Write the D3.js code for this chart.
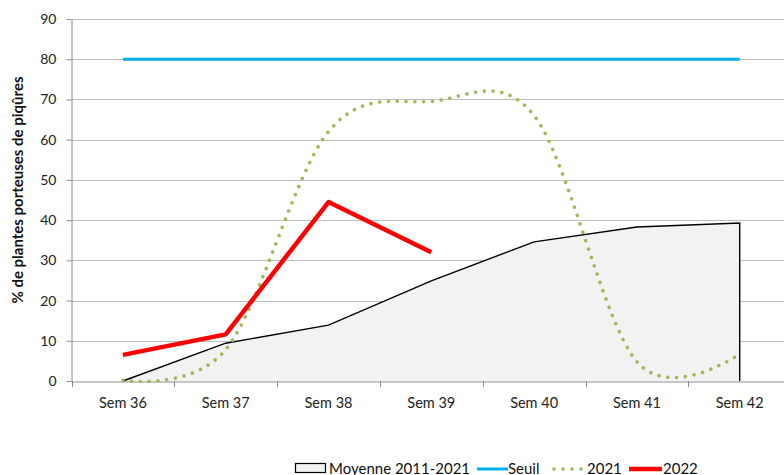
<!DOCTYPE html>
<html><head><meta charset="utf-8">
<script src="https://cdn.jsdelivr.net/npm/d3@7"></script>
<style>
body{margin:0;background:#fff;}
svg{display:block;font-family:Lato, "Open Sans", sans-serif;}
</style></head>
<body>
<svg id="c" width="784" height="475"></svg>
<script>
const categories = ["Sem 36","Sem 37","Sem 38","Sem 39","Sem 40","Sem 41","Sem 42"];
const moyenne = [0, 9.4, 13.9, 24.9, 34.6, 38.3, 39.3];
const seuil = [80, 80, 80, 80, 80, 80, 80];
const y2021 = [0.2, 7.8, 62, 69.5, 66, 4.8, 6.7];
const y2022 = [6.5, 11.6, 44.5, 32];
const yTicks = [0,10,20,30,40,50,60,70,80,90];
const legendLabels = ["Moyenne 2011-2021","Seuil","2021","2022"];

const svg = d3.select("#c");
const plotLeft = 71.5, bandW = 102.8, plotTop = 19, plotBottom = 381;
const x = d3.scaleBand().domain(categories).range([plotLeft, plotLeft + bandW*categories.length]).paddingInner(0).paddingOuter(0);
const xc = c => x(c) + x.bandwidth()/2;
const y = d3.scaleLinear().domain([0,90]).range([plotBottom, plotTop]);

// gridlines
svg.append("g").selectAll("line").data(yTicks.filter(d=>d>0)).join("line")
  .attr("x1", plotLeft).attr("x2", 784).attr("y1", d=>Math.round(y(d))+0.5).attr("y2", d=>Math.round(y(d))+0.5)
  .attr("stroke", "#bdbdbd").attr("stroke-width", 1);

// Moyenne area
const mPts = categories.map((c,i)=>[xc(c), moyenne[i]]);
svg.append("path").datum(mPts)
  .attr("d", d3.area().x(d=>d[0]).y0(y(0)).y1(d=>y(d[1])))
  .attr("fill", "#f2f2f2");
const lastX = xc(categories[categories.length-1]);
svg.append("path")
  .attr("d", d3.line().x(d=>d[0]).y(d=>d[1])(mPts.map(p=>[p[0], y(p[1])]).concat([[lastX, y(0)]])))
  .attr("fill","none").attr("stroke","#000").attr("stroke-width",1.4);

// y axis
const yAxis = svg.append("g").attr("transform", `translate(${plotLeft},0)`)
  .call(d3.axisLeft(y).tickValues(yTicks).tickSize(5).tickPadding(10).tickSizeOuter(0));
yAxis.select(".domain").attr("stroke","#8c8c8c");
yAxis.selectAll(".tick line").attr("stroke","#8c8c8c");
yAxis.selectAll(".tick text").attr("font-size", 14).attr("fill","#222").attr("font-family","Lato, sans-serif");

// x axis
const xAxis = svg.append("g").attr("transform", `translate(0,${plotBottom+0.5})`)
  .call(d3.axisBottom(x).tickSize(0).tickPadding(16).tickSizeOuter(0));
xAxis.select(".domain").attr("stroke","#8c8c8c");
xAxis.selectAll(".tick text").attr("font-size", 14.5).attr("fill","#222").attr("font-family","Lato, sans-serif");
svg.append("g").selectAll("line").data(categories).join("line")
  .attr("x1", d=>Math.round(x(d))+0.5).attr("x2", d=>Math.round(x(d))+0.5)
  .attr("y1", plotBottom).attr("y2", plotBottom+6).attr("stroke","#8c8c8c");

// Seuil
svg.append("path").datum(categories.map((c,i)=>[xc(c), seuil[i]]))
  .attr("d", d3.line().x(d=>d[0]).y(d=>y(d[1])))
  .attr("fill","none").attr("stroke","#00b0f0").attr("stroke-width",3);

// 2021 smooth dotted
svg.append("path").datum(categories.map((c,i)=>[xc(c), y2021[i]]))
  .attr("d", d3.line().x(d=>d[0]).y(d=>y(d[1])).curve(d3.curveCatmullRom.alpha(0)))
  .attr("fill","none").attr("stroke","#9bbb59").attr("stroke-width",3.6)
  .attr("stroke-linecap","round").attr("stroke-dasharray","0.01 8.8");

// 2022
svg.append("path").datum(y2022.map((v,i)=>[xc(categories[i]), v]))
  .attr("d", d3.line().x(d=>d[0]).y(d=>y(d[1])))
  .attr("fill","none").attr("stroke","#ff0000").attr("stroke-width",4.5)
  .attr("stroke-linejoin","round");

// y axis title
svg.append("text").attr("transform","translate(23,190) rotate(-90)")
  .attr("text-anchor","middle").attr("font-weight","bold").attr("font-size",15)
  .attr("fill","#111").text("% de plantes porteuses de piqûres");

// legend
const lg = svg.append("g").attr("font-size",15).attr("fill","#111");
lg.append("rect").attr("x",295.5).attr("y",463.5).attr("width",30).attr("height",9)
  .attr("fill","#f2f2f2").attr("stroke","#000").attr("stroke-width",1.2);
lg.append("text").attr("x",329).attr("y",473.5).text(legendLabels[0]);
lg.append("line").attr("x1",477).attr("x2",508).attr("y1",469).attr("y2",469).attr("stroke","#00b0f0").attr("stroke-width",3);
lg.append("text").attr("x",508).attr("y",473.5).text(legendLabels[1]);
lg.append("line").attr("x1",554).attr("x2",582).attr("y1",469).attr("y2",469).attr("stroke","#9bbb59")
  .attr("stroke-width",3.6).attr("stroke-linecap","round").attr("stroke-dasharray","0.01 9");
lg.append("text").attr("x",587).attr("y",473.5).text(legendLabels[2]);
lg.append("line").attr("x1",629).attr("x2",662).attr("y1",469).attr("y2",469).attr("stroke","#ff0000").attr("stroke-width",4.5);
lg.append("text").attr("x",663).attr("y",473.5).text(legendLabels[3]);
</script>
</body></html>
